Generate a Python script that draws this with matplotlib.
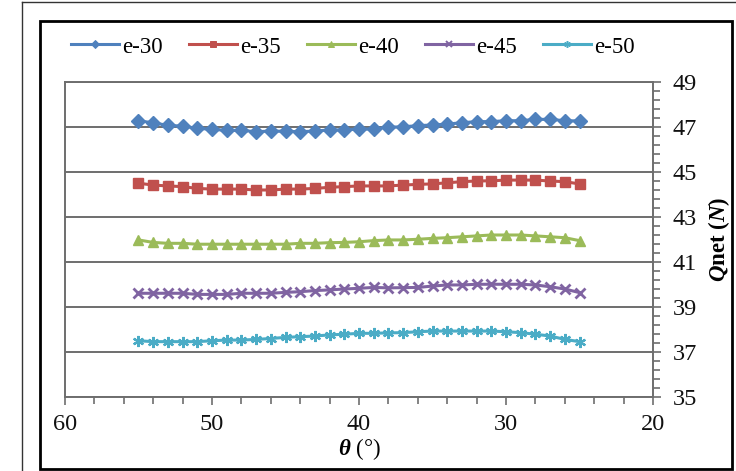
import matplotlib
matplotlib.use("Agg")
import numpy as np
import matplotlib.pyplot as plt
from matplotlib.ticker import MultipleLocator, FixedLocator
from matplotlib.patches import Rectangle
from matplotlib.lines import Line2D

plt.rcParams['font.family'] = ['Liberation Serif', 'DejaVu Serif']
plt.rcParams['mathtext.fontset'] = 'custom'
plt.rcParams['mathtext.rm'] = 'Liberation Serif'
plt.rcParams['mathtext.it'] = 'Liberation Serif:italic'
plt.rcParams['mathtext.bf'] = 'Liberation Serif:bold'
plt.rcParams['mathtext.bfit'] = 'Liberation Serif:italic:bold'

theta = [55, 54, 53, 52, 51, 50, 49, 48, 47, 46, 45, 44, 43, 42, 41, 40,
         39, 38, 37, 36, 35, 34, 33, 32, 31, 30, 29, 28, 27, 26, 25]

e30 = [47.27, 47.19, 47.07, 47.04, 46.94, 46.90, 46.85, 46.85, 46.79, 46.82,
       46.81, 46.79, 46.82, 46.87, 46.87, 46.91, 46.91, 46.99, 47.01, 47.06,
       47.09, 47.13, 47.19, 47.24, 47.24, 47.28, 47.28, 47.34, 47.34, 47.28, 47.27]
e35 = [44.50, 44.42, 44.38, 44.35, 44.27, 44.24, 44.24, 44.24, 44.20, 44.20,
       44.24, 44.24, 44.27, 44.32, 44.35, 44.38, 44.38, 44.38, 44.42, 44.45,
       44.47, 44.52, 44.57, 44.60, 44.61, 44.64, 44.64, 44.64, 44.60, 44.57, 44.47]
e40 = [41.98, 41.87, 41.83, 41.83, 41.79, 41.79, 41.79, 41.79, 41.79, 41.79,
       41.79, 41.83, 41.83, 41.86, 41.87, 41.90, 41.95, 41.98, 41.98, 42.01,
       42.05, 42.08, 42.12, 42.16, 42.20, 42.20, 42.20, 42.16, 42.12, 42.08, 41.95]
e45 = [39.61, 39.61, 39.61, 39.61, 39.56, 39.56, 39.56, 39.61, 39.61, 39.61,
       39.65, 39.68, 39.73, 39.76, 39.80, 39.83, 39.87, 39.85, 39.86, 39.87,
       39.93, 39.98, 39.98, 40.01, 40.01, 40.01, 40.01, 39.98, 39.90, 39.80, 39.64]
e50 = [37.50, 37.46, 37.46, 37.46, 37.46, 37.50, 37.53, 37.53, 37.56, 37.60,
       37.65, 37.68, 37.71, 37.76, 37.79, 37.83, 37.83, 37.85, 37.86, 37.90,
       37.93, 37.93, 37.93, 37.93, 37.93, 37.90, 37.86, 37.79, 37.71, 37.56, 37.46]

series_labels = ['e-30', 'e-35', 'e-40', 'e-45', 'e-50']
series = [e30, e35, e40, e45, e50]
y_ticks = [35, 37, 39, 41, 43, 45, 47, 49]
x_ticks = [60, 50, 40, 30, 20]

colors = ['#4F81BD', '#C0504D', '#9BBB59', '#8064A2', '#4BACC6']
markers = ['D', 's', '^', 'x', (6, 2, 0)]
msizes = [7, 7.5, 7.5, 7, 8]
mews = [1, 1, 1, 2, 1.6]

fig = plt.figure(figsize=(7.36, 4.71), dpi=100)
ax = fig.add_axes([65/736, 1-397/471, 588/736, 315/471])

for y, lab, c, m, ms, mew in zip(series, series_labels, colors, markers, msizes, mews):
    ax.plot(theta, y, color=c, lw=2.2, marker=m, ms=ms, mew=mew, mec=c, mfc=c,
            label=lab, zorder=3)

ax.set_xlim(60, 20)
ax.set_ylim(35, 49)
ax.xaxis.set_major_locator(FixedLocator(x_ticks))
ax.xaxis.set_minor_locator(MultipleLocator(2))
ax.yaxis.set_major_locator(FixedLocator(y_ticks))
ax.yaxis.set_minor_locator(FixedLocator(list(np.arange(35, 49.01, 0.4))))
ax.yaxis.tick_right()
ax.yaxis.set_label_position('right')
ax.grid(axis='y', which='major', color='#6e6e6e', lw=1.4, zorder=1)
ax.set_axisbelow(True)

gc = '#6e6e6e'
for s in ax.spines.values():
    s.set_color(gc)
    s.set_linewidth(1.4)
ax.tick_params(axis='both', which='both', direction='out', color=gc, width=1.2,
               labelsize=17.5, labelcolor='#111111')
ax.tick_params(axis='both', which='major', length=6)
ax.tick_params(axis='both', which='minor', length=5)
ax.tick_params(axis='x', which='major', pad=6)
ax.tick_params(axis='y', which='major', pad=8)

ax.set_xlabel(r'$\mathbfit{\theta}$ (°)', fontsize=16.5, labelpad=1)
ax.set_ylabel(r'$\mathbfit{Q}\mathbf{net\ (}\mathbfit{N}\mathbf{)}$', fontsize=16.5,
              labelpad=7)

handles = [Line2D([], [], color=c, lw=2.2, marker=m, ms=ms*0.6, mew=mew*0.7, mec=c, mfc=c)
           for c, m, ms, mew in zip(colors, markers, msizes, mews)]
fig.legend(handles, series_labels, loc='center left', bbox_to_anchor=(71/736, 1-47/471),
           ncol=5, frameon=False, fontsize=16.5, handlelength=2.1, handletextpad=0.15,
           columnspacing=1.12, borderaxespad=0, borderpad=0)

# chart border boxes
fig.add_artist(Rectangle((40/736, 2/471), 692/736, 448/471, transform=fig.transFigure,
                         fill=False, ec='black', lw=2))
fig.add_artist(Line2D([22/736, 1.0], [1-1.5/471, 1-1.5/471], transform=fig.transFigure,
                      color='#333333', lw=1))
fig.add_artist(Line2D([22/736, 22/736], [0, 1-1.5/471], transform=fig.transFigure,
                      color='#333333', lw=1))

fig.savefig('out.png', dpi=100)
